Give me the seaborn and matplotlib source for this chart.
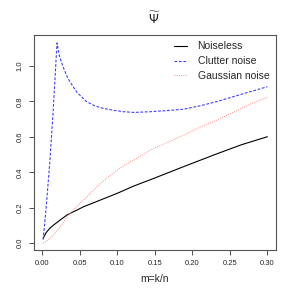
import matplotlib
matplotlib.use("Agg")
import matplotlib.pyplot as plt
import seaborn as sns

# values
noiseless_x = [0.001, 0.005, 0.01, 0.015, 0.025, 0.033, 0.045, 0.055, 0.0775,
               0.10, 0.122, 0.148, 0.19, 0.233, 0.265, 0.30]
noiseless_y = [0.028, 0.06, 0.085, 0.103, 0.135, 0.16, 0.185, 0.206, 0.244,
               0.282, 0.323, 0.365, 0.435, 0.505, 0.555, 0.601]

clutter_x = [0.001, 0.005, 0.0098, 0.0142, 0.0175, 0.0195, 0.0225, 0.0275, 0.034,
             0.041, 0.046, 0.0588, 0.07, 0.081, 0.095, 0.108, 0.122, 0.1435,
             0.165, 0.188, 0.21, 0.2326, 0.265, 0.30]
clutter_y = [0.02, 0.2, 0.451, 0.733, 0.98, 1.13, 1.06, 0.996, 0.93,
             0.883, 0.852, 0.799, 0.775, 0.761, 0.75, 0.742, 0.738, 0.742,
             0.748, 0.756, 0.775, 0.799, 0.84, 0.883]

gauss_x = [0.001, 0.008, 0.015, 0.024, 0.033, 0.044, 0.055, 0.066, 0.0775, 0.088,
           0.10, 0.111, 0.122, 0.148, 0.165, 0.188, 0.21, 0.233, 0.265, 0.28, 0.30]
gauss_y = [0.0, 0.02, 0.047, 0.095, 0.15, 0.2, 0.244, 0.29, 0.338, 0.375,
           0.413, 0.443, 0.47, 0.535, 0.565, 0.61, 0.655, 0.695, 0.76, 0.79, 0.823]

x_ticks = [0.00, 0.05, 0.10, 0.15, 0.20, 0.25, 0.30]
y_ticks = [0.0, 0.2, 0.4, 0.6, 0.8, 1.0]

sns.set_style("white")
plt.rcParams["font.family"] = ["Liberation Sans", "DejaVu Sans"]

fig = plt.figure(figsize=(2.94, 2.94), dpi=100)
ax = fig.add_axes([0.1156, 0.1497, 0.8234, 0.7323])

sns.lineplot(x=noiseless_x, y=noiseless_y, ax=ax, color="black", linewidth=0.8,
             label="Noiseless", sort=False)
sns.lineplot(x=clutter_x, y=clutter_y, ax=ax, color="#4040ff", linewidth=0.8,
             label="Clutter noise", sort=False, dashes=False)
ax.lines[-1].set_dashes((2.5, 1.5))
sns.lineplot(x=gauss_x, y=gauss_y, ax=ax, color="#ff8c8c", linewidth=0.8,
             label="Gaussian noise", sort=False)
ax.lines[-1].set_dashes((0.8, 1.2))

ax.set_xlim(-0.0112, 0.3116)
ax.set_ylim(-0.038, 1.1765)
ax.set_xticks(x_ticks)
ax.set_xticklabels([f"{v:.2f}" for v in x_ticks], fontsize=5.5)
ax.set_yticks(y_ticks)
ax.set_yticklabels([f"{v:.1f}" for v in y_ticks], fontsize=5.5, rotation=90,
                   va="center")
ax.tick_params(direction="out", length=3.5, width=0.6, color="#333333",
               bottom=True, left=True, pad=4)
for s in ax.spines.values():
    s.set_visible(True)
    s.set_color("#555555")
    s.set_linewidth(0.8)

ax.set_xlabel("m=k/n", fontsize=7.5, labelpad=5)
ax.set_ylabel("")
ax.set_title(r"$\widetilde{\Psi}$", fontsize=9, pad=8)

leg = ax.legend(loc="upper right", frameon=False, fontsize=7.5, handlelength=1.3,
                borderaxespad=0.25, labelspacing=0.45, handletextpad=1.0)

fig.savefig("out.png", dpi=100)
